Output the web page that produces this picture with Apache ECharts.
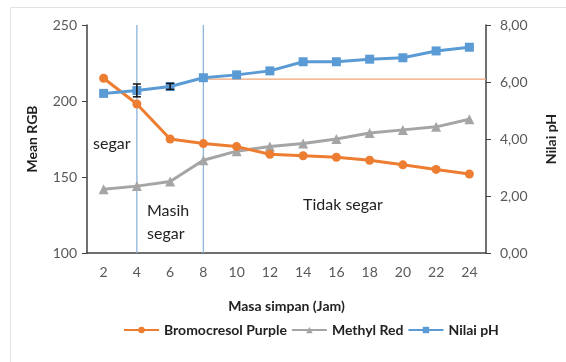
<!DOCTYPE html>
<html><head><meta charset="utf-8">
<script src="https://cdn.jsdelivr.net/npm/echarts@6/dist/echarts.min.js"></script>
<style>html,body{margin:0;padding:0;background:#fff}#c{width:566px;height:362px}</style>
</head><body><div id="c"></div>
<script>
const categories = ['2','4','6','8','10','12','14','16','18','20','22','24'];
const bromocresolPurple = [215, 198, 175, 172, 170, 165, 164, 163, 161, 158, 155, 152];
const methylRed = [142, 144, 147, 161, 167, 170, 172, 175, 179, 181, 183, 188];
const nilaiPH = [5.6, 5.7, 5.84, 6.15, 6.25, 6.39, 6.71, 6.71, 6.8, 6.85, 7.09, 7.22];
const phErrors = [[1, 5.48, 5.93], [2, 5.74, 5.95]];
const thresholdLine = [[8, 6.1], [25, 6.1]];
const zoneHours = [4, 8];
const leftTicks = [100, 250, 50];
const rightTicks = [0, 8, 2];

const FONT = 'Lato';
const zoneSeries = zoneHours.map(h => ({
  name: 'zone' + h, type: 'line', xAxisIndex: 1, yAxisIndex: 0,
  data: [[h, leftTicks[0]], [h, leftTicks[1]]], symbol: 'none', silent: true, z: 1,
  lineStyle: {color: '#8DB4DA', width: 1.3}
}));
const chart = echarts.init(document.getElementById('c'), null, {renderer: 'canvas'});
chart.setOption({
  animation: false,
  backgroundColor: '#fff',
  textStyle: {fontFamily: FONT},
  grid: {left: 87, right: 77, top: 25, bottom: 109},
  legend: {
    left: 118, top: 318, itemWidth: 35, itemHeight: 8, itemGap: 4,
    textStyle: {fontFamily: FONT, fontSize: 14, fontWeight: 'bold', color: '#222'},
    data: ['Bromocresol Purple', 'Methyl Red', 'Nilai pH']
  },
  xAxis: [{
    type: 'category', data: categories, boundaryGap: true,
    name: 'Masa simpan (Jam)', nameLocation: 'middle', nameGap: 46,
    nameTextStyle: {fontFamily: FONT, fontSize: 14, fontWeight: 'bold', color: '#222'},
    axisLine: {lineStyle: {color: '#404040', width: 1.5}},
    axisTick: {alignWithLabel: true, length: 5, lineStyle: {color: '#404040'}},
    axisLabel: {fontFamily: FONT, fontSize: 14, color: '#595959', margin: 12},
    splitLine: {show: false}
  }, {
    type: 'value', min: 1, max: 25, show: false
  }],
  yAxis: [{
    type: 'value', min: leftTicks[0], max: leftTicks[1], interval: leftTicks[2],
    name: 'Mean RGB', nameLocation: 'middle', nameGap: 48, nameRotate: 90,
    nameTextStyle: {fontFamily: FONT, fontSize: 14, fontWeight: 'bold', color: '#222'},
    axisLine: {show: true, lineStyle: {color: '#404040', width: 1.5}},
    axisTick: {show: true, length: 5, lineStyle: {color: '#404040'}},
    axisLabel: {fontFamily: FONT, fontSize: 14, color: '#595959', margin: 10},
    splitLine: {show: false}
  }, {
    type: 'value', min: rightTicks[0], max: rightTicks[1], interval: rightTicks[2], position: 'right',
    name: 'Nilai pH', nameLocation: 'middle', nameGap: 58, nameRotate: 90,
    nameTextStyle: {fontFamily: FONT, fontSize: 14, fontWeight: 'bold', color: '#222'},
    axisLine: {show: true, lineStyle: {color: '#404040', width: 1.5}},
    axisTick: {show: true, length: 5, lineStyle: {color: '#404040'}},
    axisLabel: {fontFamily: FONT, fontSize: 14, color: '#595959', margin: 14,
      formatter: v => v.toFixed(2).replace('.', ',')},
    splitLine: {show: false}
  }],
  series: [{
    name: 'Bromocresol Purple', type: 'line', data: bromocresolPurple, yAxisIndex: 0,
    symbol: 'circle', symbolSize: 9, lineStyle: {color: '#ED7D31', width: 3},
    itemStyle: {color: '#ED7D31'}, z: 3
  }, {
    name: 'Methyl Red', type: 'line', data: methylRed, yAxisIndex: 0,
    symbol: 'triangle', symbolSize: 10, lineStyle: {color: '#A5A5A5', width: 3},
    itemStyle: {color: '#A5A5A5'}, z: 2
  }, {
    name: 'Nilai pH', type: 'line', data: nilaiPH, yAxisIndex: 1,
    symbol: 'rect', symbolSize: 9, lineStyle: {color: '#5B9BD5', width: 3},
    itemStyle: {color: '#5B9BD5'}, z: 4
  }, {
    name: 'threshold', type: 'line', data: thresholdLine, xAxisIndex: 1, yAxisIndex: 1,
    symbol: 'none', lineStyle: {color: '#EFA574', width: 1.2}, z: 1, silent: true
  }, {
    name: 'err', type: 'custom', yAxisIndex: 1, data: phErrors, z: 5, silent: true,
    renderItem: function (params, api) {
      const x = api.value(0);
      const p1 = api.coord([x, api.value(1)]);
      const p2 = api.coord([x, api.value(2)]);
      const w = 4;
      const st = {stroke: '#111', lineWidth: 1.5};
      return {type: 'group', children: [
        {type: 'line', shape: {x1: p1[0], y1: p1[1], x2: p2[0], y2: p2[1]}, style: st},
        {type: 'line', shape: {x1: p1[0]-w, y1: p1[1], x2: p1[0]+w, y2: p1[1]}, style: st},
        {type: 'line', shape: {x1: p2[0]-w, y1: p2[1], x2: p2[0]+w, y2: p2[1]}, style: st}
      ]};
    }
  }].concat(zoneSeries),
  graphic: [
    {type: 'rect', shape: {x: 10.5, y: 7.5, width: 560, height: 360}, style: {fill: 'none', stroke: '#e2e2e2', lineWidth: 1}, z: -10},
    {type: 'text', left: 93, top: 136, style: {text: 'segar', fontFamily: FONT, fontSize: 16, fill: '#222'}},
    {type: 'text', left: 147, top: 199, style: {text: 'Masih\nsegar', fontFamily: FONT, fontSize: 16, fill: '#222', lineHeight: 23, align: 'center'}},
    {type: 'text', left: 303, top: 197, style: {text: 'Tidak segar', fontFamily: FONT, fontSize: 16, fill: '#222'}}
  ]
});
</script>
</body></html>
